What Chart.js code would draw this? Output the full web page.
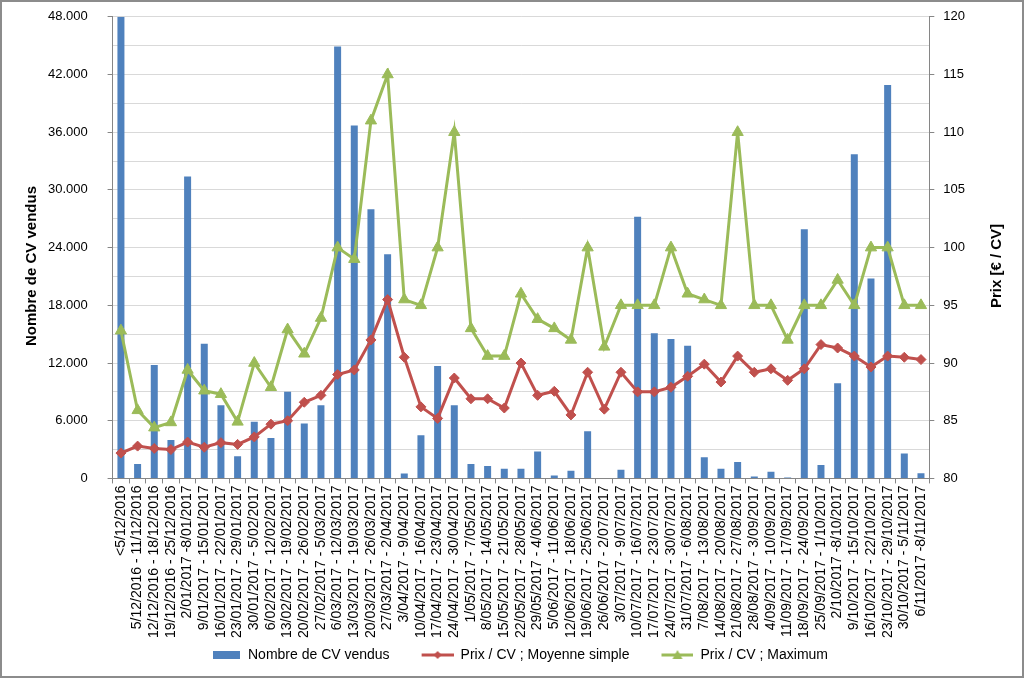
<!DOCTYPE html>
<html>
<head>
<meta charset="utf-8">
<script src="https://cdn.jsdelivr.net/npm/chart.js@4.4.1/dist/chart.umd.min.js"></script>
<style>
    html, body { margin: 0; padding: 0; background: #fff; }
    #wrap { width: 1024px; height: 678px; }
</style>
</head>
<body>
<div id="wrap"><canvas id="chart" width="1024" height="678"></canvas></div>
<script>
const categories = [
    '<5/12/2016', '5/12/2016 - 11/12/2016', '12/12/2016 - 18/12/2016', '19/12/2016 - 25/12/2016',
    '2/01/2017 -8/01/2017', '9/01/2017 - 15/01/2017', '16/01/2017 - 22/01/2017', '23/01/2017 - 29/01/2017',
    '30/01/2017 - 5/02/2017', '6/02/2017 - 12/02/2017', '13/02/2017 - 19/02/2017', '20/02/2017 - 26/02/2017',
    '27/02/2017 - 5/03/2017', '6/03/2017 - 12/03/2017', '13/03/2017 - 19/03/2017', '20/03/2017 - 26/03/2017',
    '27/03/2017 - 2/04/2017', '3/04/2017 - 9/04/2017', '10/04/2017 - 16/04/2017', '17/04/2017 - 23/04/2017',
    '24/04/2017 - 30/04/2017', '1/05/2017 - 7/05/2017', '8/05/2017 - 14/05/2017', '15/05/2017 - 21/05/2017',
    '22/05/2017 - 28/05/2017', '29/05/2017 - 4/06/2017', '5/06/2017 - 11/06/2017', '12/06/2017 - 18/06/2017',
    '19/06/2017 - 25/06/2017', '26/06/2017 - 2/07/2017', '3/07/2017 - 9/07/2017', '10/07/2017 - 16/07/2017',
    '17/07/2017 - 23/07/2017', '24/07/2017 - 30/07/2017', '31/07/2017 - 6/08/2017', '7/08/2017 - 13/08/2017',
    '14/08/2017 - 20/08/2017', '21/08/2017 - 27/08/2017', '28/08/2017 - 3/09/2017', '4/09/2017 - 10/09/2017',
    '11/09/2017 - 17/09/2017', '18/09/2017 - 24/09/2017', '25/09/2017 - 1/10/2017', '2/10/2017 -8/10/2017',
    '9/10/2017 - 15/10/2017', '16/10/2017 - 22/10/2017', '23/10/2017 - 29/10/2017', '30/10/2017 - 5/11/2017',
    '6/11/2017 -8/11/2017'
];

// nombre de CV vendus par semaine
const cvVendus = [
    48000, 1500, 11800, 4000, 31400, 14000, 7600, 2300, 5900, 4200,
    9000, 5700, 7600, 44900, 36700, 28000, 23300, 500, 4500, 11700,
    7600, 1500, 1300, 1000, 1000, 2800, 300, 800, 4900, 0,
    900, 27200, 15100, 14500, 13800, 2200, 1000, 1700, 200, 700,
    100, 25900, 1400, 9900, 33700, 20800, 40900, 2600, 550
];

// prix / CV, moyenne simple
const prixMoyen = [
    82.2, 82.8, 82.6, 82.5, 83.15, 82.7, 83.1, 82.95, 83.6, 84.7,
    85.0, 86.6, 87.2, 89.0, 89.4, 92.0, 95.5, 90.5, 86.2, 85.2,
    88.7, 86.9, 86.9, 86.1, 90.0, 87.2, 87.55, 85.5, 89.2, 86.0,
    89.2, 87.5, 87.5, 87.9, 88.85, 89.9, 88.35, 90.6, 89.2, 89.5,
    88.5, 89.5, 91.6, 91.3, 90.6, 89.65, 90.6, 90.5, 90.3
];

// prix / CV, maximum
const prixMax = [
    92.8, 85.9, 84.4, 84.85, 89.4, 87.6, 87.3, 84.9, 90.0, 87.9,
    92.9, 90.8, 93.9, 100, 99, 111, 115, 95.5, 95, 100,
    110, 93, 90.6, 90.6, 96, 93.8, 93, 92, 100, 91.4,
    95, 95, 95, 100, 96, 95.5, 95, 110, 95, 95,
    92, 95, 95, 97.2, 95, 100, 100, 95, 95
];

const blue = '#4F81BD', red = '#C0504D', green = '#9BBB59';
const axisGray = '#868686', gridGray = '#D9D9D9';
const fontFamily = '"Liberation Sans", Arial, sans-serif';

// icones de legende : marge vide a gauche pour espacer les items
function makeIcon(kind) {
    const c = document.createElement('canvas');
    c.width = 56;
    c.height = 14;
    const g = c.getContext('2d');
    if (kind === 'bar') {
        g.fillStyle = blue;
        g.fillRect(28, 3, 27, 8);
        return c;
    }
    const col = kind === 'avg' ? red : green;
    g.strokeStyle = col;
    g.fillStyle = col;
    g.lineWidth = 3;
    g.beginPath();
    g.moveTo(24, 7);
    g.lineTo(56, 7);
    g.stroke();
    g.beginPath();
    if (kind === 'avg') {
        g.moveTo(40, 3); g.lineTo(44, 7); g.lineTo(40, 11); g.lineTo(36, 7);
    } else {
        g.moveTo(40, 2); g.lineTo(45, 11); g.lineTo(35, 11);
    }
    g.closePath();
    g.fill();
    return c;
}
const legendIcons = [makeIcon('bar'), makeIcon('avg'), makeIcon('max')];

// 48000 -> "48.000", espaces en fin pour decaler le texte de l'axe
function fmtMilliers(v) {
    return String(v).replace(/\B(?=(\d{3})+(?!\d))/g, '.') + '   ';
}

function drawVerticalTitle(ctx, text, x, y) {
    ctx.save();
    ctx.translate(x, y);
    ctx.rotate(-Math.PI / 2);
    ctx.font = 'bold 15px ' + fontFamily;
    ctx.fillStyle = '#000';
    ctx.textAlign = 'center';
    ctx.textBaseline = 'middle';
    ctx.fillText(text, 0, 0);
    ctx.restore();
}

const decorPlugin = {
    id: 'decor',
    afterDraw(chart) {
        const ctx = chart.ctx;
        drawVerticalTitle(ctx, 'Nombre de CV vendus', 32, 266);
        drawVerticalTitle(ctx, 'Prix [€ / CV]', 997, 266);
        ctx.save();
        ctx.strokeStyle = '#8c8c8c';
        ctx.lineWidth = 2;
        ctx.strokeRect(1, 1, chart.width - 2, chart.height - 2);
        ctx.restore();
    }
};

Chart.defaults.font.family = fontFamily;
Chart.defaults.color = '#000';

new Chart(document.getElementById('chart'), {
    type: 'bar',
    data: {
        labels: categories,
        datasets: [
            {
                type: 'bar',
                label: 'Nombre de CV vendus',
                data: cvVendus,
                backgroundColor: blue,
                yAxisID: 'y',
                order: 3,
                categoryPercentage: 0.42,
                barPercentage: 1,
            },
            {
                type: 'line',
                label: 'Prix / CV ; Moyenne simple',
                data: prixMoyen,
                borderColor: red,
                backgroundColor: red,
                borderWidth: 3,
                pointStyle: 'rectRot',
                pointRadius: 5,
                pointBorderWidth: 1,
                tension: 0,
                yAxisID: 'y1',
                order: 2,
            },
            {
                type: 'line',
                label: 'Prix / CV ; Maximum',
                data: prixMax,
                borderColor: green,
                backgroundColor: green,
                borderWidth: 3,
                pointStyle: 'triangle',
                pointRadius: 6.5,
                pointBorderWidth: 1,
                tension: 0,
                yAxisID: 'y1',
                order: 1,
            },
        ]
    },
    options: {
        responsive: false,
        animation: false,
        layout: {
            autoPadding: false,
            padding: {left: 39, right: 50, top: 8, bottom: 6}
        },
        scales: {
            x: {
                grid: {
                    offset: true,
                    drawOnChartArea: false,
                    drawTicks: true,
                    tickLength: 5,
                    color: axisGray,
                },
                border: {color: axisGray},
                ticks: {
                    minRotation: 90,
                    maxRotation: 90,
                    autoSkip: false,
                    padding: 2,
                    font: {size: 14},
                    color: '#000',
                },
            },
            y: {
                position: 'left',
                min: 0,
                max: 48000,
                ticks: {
                    stepSize: 3000,
                    padding: 9,
                    font: {size: 13},
                    color: '#000',
                    callback: v => v % 6000 === 0 ? fmtMilliers(v) : '',
                },
                grid: {
                    color: gridGray,
                    lineWidth: 1,
                    tickLength: 5,
                    tickColor: c => c.tick && c.tick.value % 6000 === 0 ? axisGray : 'rgba(0,0,0,0)',
                },
                border: {color: axisGray},
            },
            y1: {
                position: 'right',
                min: 80,
                max: 120,
                ticks: {
                    stepSize: 5,
                    padding: 9,
                    font: {size: 13},
                    color: '#000',
                },
                grid: {
                    drawOnChartArea: false,
                    tickLength: 5,
                    color: axisGray,
                },
                border: {color: axisGray},
            },
        },
        plugins: {
            tooltip: {enabled: false},
            legend: {
                position: 'bottom',
                labels: {
                    usePointStyle: true,
                    pointStyleWidth: 56,
                    padding: 8,
                    font: {size: 14},
                    color: '#000',
                    generateLabels: chart => chart.data.datasets.map((ds, i) => ({
                        text: ds.label,
                        pointStyle: legendIcons[i],
                        datasetIndex: i,
                        hidden: false,
                        fontColor: '#000',
                        lineWidth: 0,
                        strokeStyle: 'rgba(0,0,0,0)',
                        fillStyle: 'rgba(0,0,0,0)',
                    })),
                },
            },
        },
    },
    plugins: [decorPlugin],
});
</script>
</body>
</html>
